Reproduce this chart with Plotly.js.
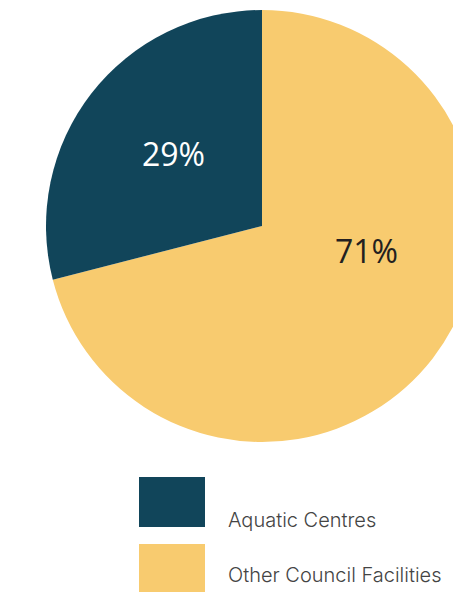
<!DOCTYPE html>
<html>
<head>
<meta charset="utf-8">
<script src="https://cdn.plot.ly/plotly-3.0.1.min.js"></script>
<style>
html,body{margin:0;padding:0;overflow:hidden;background:#fff;width:453px;height:592px;}
#chart{width:500px;height:592px;}
</style>
</head>
<body>
<div id="chart"></div>
<script>
const labels = ["Aquatic Centres", "Other Council Facilities"];
const values = [29, 71];
const colors = ["#11455a", "#f8cb6f"];
const textColors = ["#ffffff", "#231f20"];

const W = 500, H = 592;
const px = x => x / W;
const py = y => 1 - y / H;

const total = values.reduce((a, b) => a + b, 0);
const pctText = values.map(v => Math.round(v / total * 100) + "%");
const pctPos = [[173, 154], [366, 250]];

const annotations = [];
const shapes = [];
pctText.forEach((t, i) => {
  annotations.push({
    text: t, x: px(pctPos[i][0]), y: py(pctPos[i][1]), xref: "paper", yref: "paper",
    xanchor: "center", yanchor: "middle", showarrow: false,
    font: {family: "Open Sans", size: 32, color: textColors[i], weight: 400}
  });
});
const legTop = [477, 544];
const legTextY = [520, 575];
labels.forEach((l, i) => {
  shapes.push({
    type: "rect", xref: "paper", yref: "paper",
    x0: px(139), x1: px(205), y0: py(legTop[i] + 50), y1: py(legTop[i]),
    fillcolor: colors[i], line: {width: 0}
  });
  annotations.push({
    text: l, x: px(226), y: py(legTextY[i]), xref: "paper", yref: "paper",
    xanchor: "left", yanchor: "middle", showarrow: false,
    font: {family: "Inter", size: 20, color: "#444444", weight: 300}
  });
});

// Plotly places the first slice clockwise of 12 o'clock; reverse so the
// Aquatic Centres slice sits counterclockwise of 12 o'clock as in the reference.
Plotly.newPlot("chart", [{
  type: "pie",
  labels: labels.slice().reverse(),
  values: values.slice().reverse(),
  sort: false,
  direction: "counterclockwise",
  rotation: 0,
  textinfo: "none",
  hoverinfo: "label+percent",
  marker: {colors: colors.slice().reverse(), line: {width: 0}},
  domain: {x: [px(46), px(478)], y: [py(442), py(10)]},
  showlegend: false
}], {
  width: W, height: H,
  margin: {l: 0, r: 0, t: 0, b: 0},
  paper_bgcolor: "#ffffff",
  showlegend: false,
  annotations: annotations,
  shapes: shapes
}, {displayModeBar: false, staticPlot: true});
</script>
</body>
</html>
